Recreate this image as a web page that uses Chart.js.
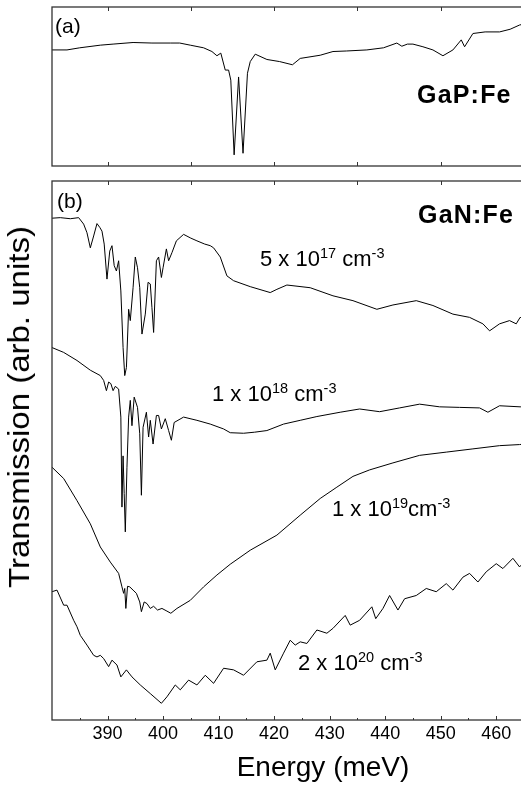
<!DOCTYPE html>
<html>
<head>
<meta charset="utf-8">
<script src="https://cdn.jsdelivr.net/npm/chart.js@4.4.1/dist/chart.umd.min.js"></script>
<style>
  html, body { margin: 0; padding: 0; background: #fff; overflow: hidden; width: 521px; height: 787px; }
  canvas { position: absolute; left: 0; }
  .lbl { position: absolute; font-family: "Liberation Sans", Arial, sans-serif; color: #000; white-space: nowrap; line-height: 1; }
  .lbl sup { font-size: 0.66em; vertical-align: 0.55em; line-height: 0; }
  .bold { font-weight: bold; }
</style>
</head>
<body>
<canvas id="chartA" width="530" height="170" style="top:0"></canvas>
<canvas id="chartB" width="530" height="617" style="top:170px"></canvas>

<div class="lbl" style="left:55px;top:15px;font-size:21px">(a)</div>
<div class="lbl bold" style="left:417px;top:82px;font-size:25px;letter-spacing:1.2px">GaP:Fe</div>
<div class="lbl" style="left:57px;top:190px;font-size:21px">(b)</div>
<div class="lbl bold" style="left:418px;top:202px;font-size:25px;letter-spacing:1.2px">GaN:Fe</div>
<div class="lbl" style="left:260px;top:248px;font-size:22px">5 x 10<sup>17</sup> cm<sup>-3</sup></div>
<div class="lbl" style="left:212px;top:383px;font-size:22px">1 x 10<sup>18</sup> cm<sup>-3</sup></div>
<div class="lbl" style="left:332px;top:498px;font-size:22px">1 x 10<sup>19</sup>cm<sup>-3</sup></div>
<div class="lbl" style="left:298px;top:652px;font-size:22px">2 x 10<sup>20</sup> cm<sup>-3</sup></div>
<div class="lbl" style="left:323px;top:753px;font-size:28px;transform:translateX(-50%)">Energy (meV)</div>
<div class="lbl" style="left:19px;top:407px;font-size:30px;transform:translate(-50%,-50%) rotate(-90deg) scaleX(1.1)">Transmission (arb. units)</div>

<script>
// panel (a): GaP:Fe
const gapE = [380, 382.7, 385, 388.7, 391, 394.6, 398, 401.3, 403, 404.9, 407.3, 408.8, 409.7, 410.4, 411.2, 411.8, 412.2, 412.8, 413.6, 414.4, 415.2, 415.7, 416.6, 418.7, 421, 423.3, 424.7, 428.3, 430.6, 433, 436.7, 439.7, 442.1, 443, 444, 445, 446.8, 448.6, 450.4, 452.2, 453.7, 454.3, 455.8, 458, 460.6, 462.5, 464.2, 465];
const gapT = [2.19, 2.19, 2.23, 2.28, 2.30, 2.33, 2.32, 2.32, 2.32, 2.28, 2.23, 2.16, 2.08, 2.13, 1.81, 1.81, 1.62, 0.21, 1.68, 0.24, 1.75, 1.97, 2.11, 2.01, 1.97, 1.91, 2.03, 2.09, 2.16, 2.17, 2.19, 2.23, 2.32, 2.26, 2.30, 2.30, 2.25, 2.19, 2.08, 2.19, 2.38, 2.25, 2.50, 2.53, 2.53, 2.58, 2.66, 2.68];

// panel (b): GaN:Fe, 5 x 10^17
const e17E = [380, 381.5, 383.3, 384.8, 385.7, 386.3, 386.9, 387.5, 388.1, 388.6, 389, 389.4, 389.9, 390.4, 390.8, 391.2, 391.6, 392, 392.4, 392.8, 393.1, 393.4, 393.8, 394.1, 394.6, 395, 395.4, 395.8, 396.2, 396.8, 397.3, 397.7, 398, 398.3, 398.8, 399.2, 399.7, 400, 400.6, 401, 401.6, 402.4, 403.7, 405, 406.1, 407.5, 408.5, 409.1, 410.3, 411.5, 412.7, 415.7, 419.3, 420.5, 422.3, 426.5, 430.6, 434.2, 438.5, 441.4, 445.6, 448.6, 452.2, 455.2, 457.6, 458.8, 460.6, 462.4, 463.6, 464.3, 465];
const e17T = [9.31, 9.32, 9.30, 9.32, 9.20, 9.04, 8.76, 8.98, 9.21, 9.14, 9.07, 8.83, 8.18, 8.70, 8.80, 8.43, 8.33, 8.52, 7.96, 6.91, 6.39, 6.54, 7.62, 7.41, 8.02, 8.59, 8.39, 8.02, 7.16, 7.53, 8.12, 8.09, 7.65, 7.19, 8.52, 8.59, 8.21, 8.39, 8.74, 8.52, 8.67, 8.89, 9.01, 8.94, 8.89, 8.83, 8.80, 8.76, 8.59, 8.24, 8.15, 8.04, 7.93, 7.99, 8.07, 8.02, 7.87, 7.78, 7.62, 7.70, 7.78, 7.69, 7.53, 7.47, 7.35, 7.22, 7.35, 7.41, 7.35, 7.47, 7.44];

// 1 x 10^18
const e18E = [380, 382.1, 384.5, 386.9, 388.7, 389.3, 389.8, 390.2, 390.6, 391, 391.4, 392, 392.4, 392.6, 392.8, 393, 393.2, 393.5, 393.8, 394.1, 394.4, 394.8, 395.4, 395.8, 396.1, 396.4, 397, 397.4, 397.7, 398.2, 398.8, 399.2, 399.7, 400.4, 401, 401.5, 402, 403.7, 406.1, 408.5, 410.9, 412.1, 414.5, 416.5, 418.7, 421.7, 424.7, 427.7, 431.9, 435.4, 439, 442.6, 446.2, 449.8, 453.4, 457, 458.5, 460.6, 464.3, 465];
const e18T = [6.91, 6.82, 6.67, 6.49, 6.39, 6.30, 6.11, 6.27, 6.24, 6.11, 6.19, 6.14, 5.62, 3.95, 4.90, 4.20, 3.49, 4.69, 5.62, 5.93, 5.46, 5.99, 5.80, 5.31, 4.17, 5.43, 5.71, 5.25, 5.56, 5.12, 5.65, 5.65, 5.40, 5.59, 5.37, 5.19, 5.52, 5.62, 5.56, 5.49, 5.40, 5.33, 5.32, 5.34, 5.37, 5.49, 5.56, 5.63, 5.71, 5.77, 5.72, 5.79, 5.86, 5.81, 5.80, 5.79, 5.71, 5.83, 5.81, 5.81];

// 1 x 10^19
const e19E = [380, 382.1, 384.5, 386.9, 388.7, 390.5, 392, 392.6, 392.9, 393.1, 393.3, 393.6, 394, 394.6, 395.2, 395.8, 396.1, 396.6, 397.1, 397.7, 398.3, 399, 399.8, 400.7, 401.4, 402.5, 404.9, 407.3, 409.7, 412.1, 415.7, 420.5, 424.7, 428.3, 431.3, 434.2, 437.2, 441.4, 446.2, 451, 455.8, 460.6, 464.2, 465];
const e19T = [4.69, 4.48, 4.07, 3.64, 3.21, 2.93, 2.72, 2.47, 2.35, 2.44, 2.07, 2.48, 2.47, 2.41, 2.35, 2.19, 2.01, 2.19, 2.16, 2.07, 2.11, 2.04, 2.07, 2.02, 1.98, 2.07, 2.22, 2.47, 2.69, 2.89, 3.15, 3.43, 3.80, 4.11, 4.32, 4.52, 4.64, 4.77, 4.91, 4.97, 5.03, 5.09, 5.11, 5.12];

// 2 x 10^20
const e20E = [380, 380.9, 382.1, 382.7, 383.9, 384.5, 385.1, 386.3, 387.5, 388.1, 388.7, 389.3, 390.2, 390.8, 391.7, 392.4, 393.4, 394.4, 395.9, 397.7, 399.7, 400.7, 402.2, 403.1, 404.6, 406.1, 407.6, 409.1, 410.9, 412.7, 414.5, 416.9, 418.7, 419.3, 420.2, 421.7, 422.9, 423.8, 424.7, 425.9, 427.7, 429.5, 430.6, 432.8, 433.7, 435.4, 437.6, 438.3, 439.6, 440.8, 442.3, 443.5, 445.6, 447.4, 449.2, 451, 452.2, 454, 455.2, 456.7, 458.2, 460, 461.2, 463, 464.2, 465];
const e20T = [2.38, 2.41, 2.13, 2.13, 1.85, 1.73, 1.57, 1.39, 1.20, 1.17, 1.20, 1.14, 0.99, 1.11, 1.02, 0.80, 0.93, 0.80, 0.65, 0.49, 0.31, 0.43, 0.65, 0.56, 0.74, 0.65, 0.83, 0.68, 0.96, 0.93, 0.83, 1.08, 1.11, 1.24, 0.93, 1.24, 1.48, 1.39, 1.45, 1.42, 1.67, 1.61, 1.70, 1.94, 1.76, 1.85, 2.10, 1.88, 2.07, 2.31, 2.04, 2.25, 2.31, 2.44, 2.38, 2.53, 2.41, 2.65, 2.72, 2.56, 2.75, 2.90, 2.81, 3.00, 2.84, 2.93];

// axis ticks
const energyTicks = [390, 400, 410, 420, 430, 440, 450, 460];
const frameTicksA = [390, 405, 420, 435, 450];
const minorTicksB = [385, 390, 395, 400, 405, 410, 415, 420, 425, 430, 435, 440, 445, 450, 455, 460];

const toPoints = (xs, ys) => xs.map((x, i) => ({ x: x, y: ys[i] }));

const line = (data) => ({
    data: data,
    borderColor: '#000',
    borderWidth: 1,
    pointRadius: 0,
    tension: 0,
    fill: false
});

// frame and inward ticks, drawn on the x scale
const frameTicks = {
    id: 'frameTicks',
    afterDraw(chart, args, opts) {
        const { ctx, chartArea: a, scales: { x } } = chart;
        ctx.save();
        ctx.strokeStyle = '#333';
        ctx.lineWidth = 1.3;
        ctx.strokeRect(a.left, a.top, a.right - a.left, a.bottom - a.top);
        ctx.lineWidth = 1;
        ctx.beginPath();
        (opts.top || []).forEach((v) => {
            const px = Math.round(x.getPixelForValue(v)) + 0.5;
            ctx.moveTo(px, a.top);
            ctx.lineTo(px, a.top + 4);
        });
        (opts.bottom || []).forEach((v) => {
            const px = Math.round(x.getPixelForValue(v)) + 0.5;
            const len = (opts.major && v % 10 !== 0) ? 2 : 4;
            ctx.moveTo(px, a.bottom);
            ctx.lineTo(px, a.bottom - len);
        });
        ctx.stroke();
        ctx.restore();
    }
};

const baseX = { type: 'linear', min: 380, max: 465 };

new Chart(document.getElementById('chartA'), {
    type: 'line',
    data: { datasets: [line(toPoints(gapE, gapT))] },
    options: {
        responsive: false,
        animation: false,
        layout: { padding: { left: 52, right: 6, top: 7, bottom: 4 } },
        scales: {
            x: { ...baseX, display: false },
            y: { min: 0, max: 3, display: false }
        },
        plugins: {
            legend: { display: false },
            tooltip: { enabled: false },
            frameTicks: { top: frameTicksA, bottom: frameTicksA }
        }
    },
    plugins: [frameTicks]
});

new Chart(document.getElementById('chartB'), {
    type: 'line',
    data: {
        datasets: [
            line(toPoints(e17E, e17T)),
            line(toPoints(e18E, e18T)),
            line(toPoints(e19E, e19T)),
            line(toPoints(e20E, e20T))
        ]
    },
    options: {
        responsive: false,
        animation: false,
        layout: { padding: { left: 52, right: 6, top: 11, bottom: 0 } },
        scales: {
            x: {
                ...baseX,
                grid: { display: false, drawTicks: false },
                border: { display: false },
                ticks: {
                    color: '#000',
                    padding: 3,
                    maxRotation: 0,
                    autoSkip: false,
                    font: { family: 'Liberation Sans', size: 18 }
                },
                afterBuildTicks: (scale) => {
                    scale.ticks = energyTicks.map((v) => ({ value: v }));
                },
                afterFit: (scale) => { scale.height = 67; }
            },
            y: { min: 0, max: 10, display: false }
        },
        plugins: {
            legend: { display: false },
            tooltip: { enabled: false },
            frameTicks: { top: frameTicksA, bottom: minorTicksB, major: true }
        }
    },
    plugins: [frameTicks]
});
</script>
</body>
</html>
